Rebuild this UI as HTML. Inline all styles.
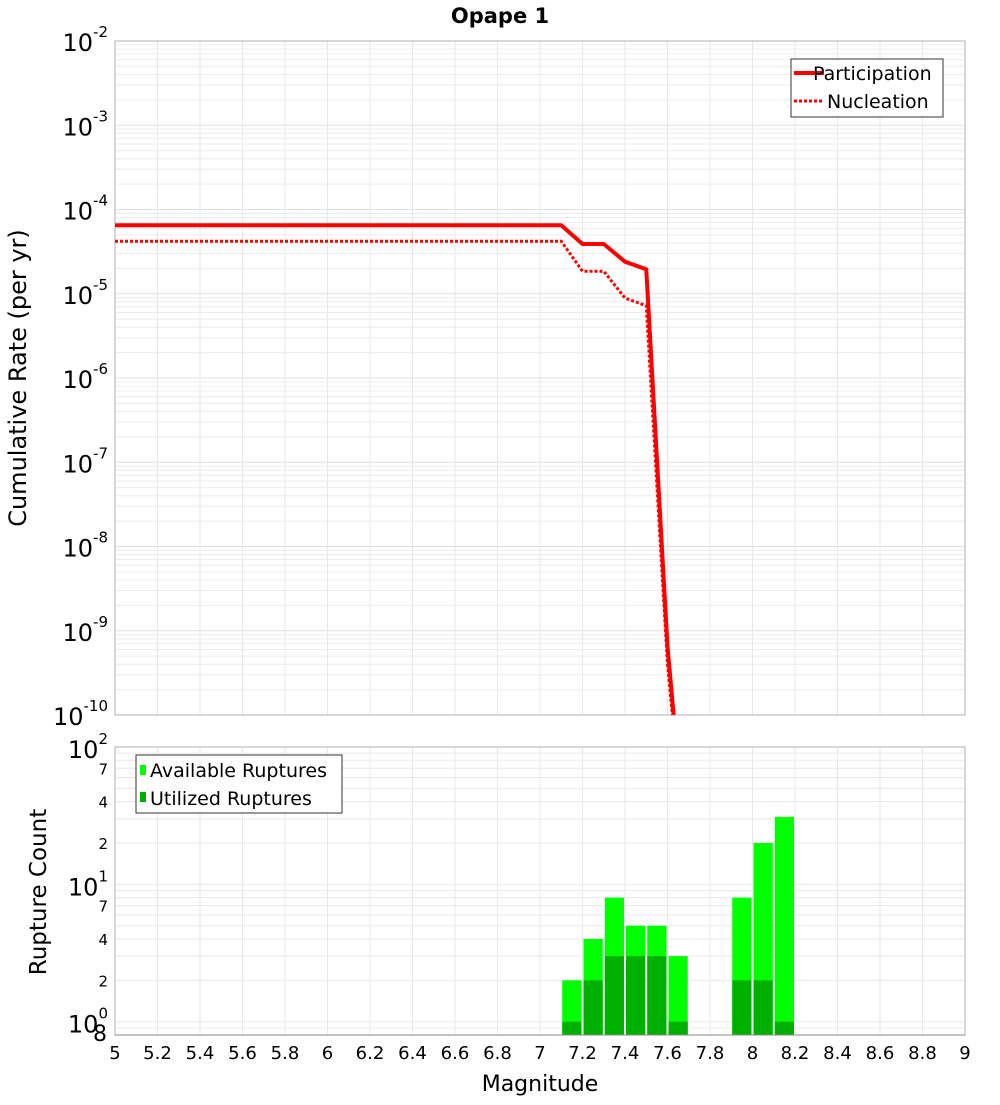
<!DOCTYPE html>
<html><head><meta charset="utf-8"><style>
html,body{margin:0;padding:0;background:#fff;}
svg text{font-family:"DejaVu Sans","Liberation Sans",sans-serif;}
</style></head><body>
<svg id="chart" width="1000" height="1100" xmlns="http://www.w3.org/2000/svg">
<text x="500" y="23" text-anchor="middle" font-size="21" font-weight="bold">Opape 1</text>
<g id="topplot"></g>
<g id="botplot"></g>
<text x="540" y="1091" text-anchor="middle" font-size="22">Magnitude</text>
<text transform="translate(26,378) rotate(-90)" text-anchor="middle" font-size="24">Cumulative Rate (per yr)</text>
<text transform="translate(46,892) rotate(-90)" text-anchor="middle" font-size="23">Rupture Count</text>
</svg>
<script>
const partMags=[5,5.1,5.2,5.3,5.4,5.5,5.6,5.7,5.8,5.9,6,6.1,6.2,6.3,6.4,6.5,6.6,6.7,6.8,6.9,7,7.1,7.2,7.3,7.4,7.5,7.6,7.7];
const partRates=[6.5e-5,6.5e-5,6.5e-5,6.5e-5,6.5e-5,6.5e-5,6.5e-5,6.5e-5,6.5e-5,6.5e-5,6.5e-5,6.5e-5,6.5e-5,6.5e-5,6.5e-5,6.5e-5,6.5e-5,6.5e-5,6.5e-5,6.5e-5,6.5e-5,6.5e-5,3.9e-5,3.9e-5,2.4e-5,1.95e-5,6.5e-10,1e-12];
const nuclRates=[4.2e-5,4.2e-5,4.2e-5,4.2e-5,4.2e-5,4.2e-5,4.2e-5,4.2e-5,4.2e-5,4.2e-5,4.2e-5,4.2e-5,4.2e-5,4.2e-5,4.2e-5,4.2e-5,4.2e-5,4.2e-5,4.2e-5,4.2e-5,4.2e-5,4.2e-5,1.85e-5,1.85e-5,8.9e-6,7.2e-6,4e-10,1e-12];
const barMags=[7.1,7.2,7.3,7.4,7.5,7.6,7.9,8.0,8.1];
const availCounts=[2,4,8,5,5,3,8,20,31];
const usedCounts=[1,2,3,3,3,1,2,2,1];
const xTicks=[5,5.2,5.4,5.6,5.8,6,6.2,6.4,6.6,6.8,7,7.2,7.4,7.6,7.8,8,8.2,8.4,8.6,8.8,9];
const topExps=[-2,-3,-4,-5,-6,-7,-8,-9,-10];
const botMinorLabels=[70,40,20,7,4,2,0.8];

const NS="http://www.w3.org/2000/svg";
const X0=115,X1=965,T0=41,T1=715,B0=747,B1=1035;
const xs=m=>X0+(m-5)/4*(X1-X0);
const yT=v=>T0+(-2-Math.log10(v))/8*(T1-T0);
const yB=v=>B0+(2-Math.log10(v))/(2-Math.log10(0.8))*(B1-B0);
function mk(tag,attrs,parent,text){const e=document.createElementNS(NS,tag);for(const k in attrs)e.setAttribute(k,attrs[k]);if(text!==undefined)e.textContent=text;parent.appendChild(e);return e;}
const topG=document.getElementById('topplot'),botG=document.getElementById('botplot');

const defs=mk('defs',{},document.getElementById('chart'));
const cp=mk('clipPath',{id:'ct'},defs);mk('rect',{x:X0,y:T0,width:X1-X0,height:T1-T0},cp);

for(let e=-10;e<-2;e++){for(let k=1;k<10;k++){const y=yT(k*Math.pow(10,e));const g=mk('line',{x1:X0,x2:X1,y1:y,y2:y,stroke:k==1?'#e0e0e0':'#ececec','stroke-width':1},topG);}}
for(const t of xTicks){const x=xs(t);const g=mk('line',{x1:x,x2:x,y1:T0,y2:T1,stroke:'#e8e8e8'},topG);
 const g2=mk('line',{x1:x,x2:x,y1:B0,y2:B1,stroke:'#e8e8e8'},botG);}
const frT=mk('rect',{x:X0,y:T0,width:X1-X0,height:T1-T0,fill:'none',stroke:'#b0b0b0'},topG);

for(const e of topExps){const y=yT(Math.pow(10,e));const t=mk('text',{x:108,y:y+10,'text-anchor':'end','font-size':24},topG);
 
 mk('tspan',{},t,'10');mk('tspan',{dy:-14,'font-size':15},t,String(e));}

function pl(vals,dash,name){const pts=partMags.map((m,i)=>xs(m)+','+yT(vals[i])).join(' ');
 const p=mk('polyline',{points:pts,fill:'none',stroke:'#ff0000','stroke-width':dash?3:4,'stroke-dasharray':dash?'3,2':'none','clip-path':'url(#ct)'},topG);
 }
pl(partRates,false,'participation-line');pl(nuclRates,true,'nucleation-line');

const lg=mk('g',{},topG);
mk('rect',{x:791,y:59,width:152,height:58,fill:'#fff',stroke:'#333'},lg);
mk('line',{x1:794,x2:824,y1:73,y2:73,stroke:'#f00','stroke-width':4},lg);
mk('line',{x1:794,x2:824,y1:101,y2:101,stroke:'#f00','stroke-width':3,'stroke-dasharray':'3,2'},lg);
const l1=mk('text',{x:813,y:80,'font-size':19},lg,'Participation');
const l2=mk('text',{x:827,y:108,'font-size':19},lg,'Nucleation');

for(let e=-1;e<2;e++){for(let k=1;k<10;k++){const v=k*Math.pow(10,e);if(v<0.8)continue;const y=yB(v);const g=mk('line',{x1:X0,x2:X1,y1:y,y2:y,stroke:'#e8e8e8'},botG);}}
barMags.forEach((m,i)=>{const x=xs(m)+1,w=xs(m+0.1)-xs(m)-2;
 const a=mk('rect',{x:x,y:yB(availCounts[i]),width:w,height:B1-yB(availCounts[i]),fill:'#00ff00'},botG);
 const u=mk('rect',{x:x,y:yB(usedCounts[i]),width:w,height:B1-yB(usedCounts[i]),fill:'#00b000'},botG);});
const frB=mk('rect',{x:X0,y:B0,width:X1-X0,height:B1-B0,fill:'none',stroke:'#b0b0b0'},botG);

mk('line',{x1:X0,x2:X1,y1:B1,y2:B1,stroke:'#888'},botG);
for(const e of [2,1,0]){const y=yB(Math.pow(10,e));const t=mk('text',{x:108,y:y+11,'text-anchor':'end','font-size':24},botG);
 
 mk('tspan',{},t,'10');mk('tspan',{dy:-14,'font-size':15},t,String(e));}
for(const v of botMinorLabels){const y=yB(v);const t=mk('text',{x:v<1?107:108,y:y+6,'text-anchor':'end','font-size':v<1?22:15},botG,v<1?'8':String(v%10===0?v/10:v));
 }
for(const t of xTicks){const tx=mk('text',{x:xs(t),y:1059,'text-anchor':'middle','font-size':18},botG,String(t));}
const bl=mk('g',{},botG);
mk('rect',{x:136,y:755,width:206,height:58,fill:'#fff',stroke:'#333'},bl);
mk('rect',{x:140,y:765,width:6,height:10,fill:'#00ff00'},bl);
mk('rect',{x:140,y:792,width:6,height:10,fill:'#00b000'},bl);
const b1=mk('text',{x:150,y:777,'font-size':19},bl,'Available Ruptures');
const b2=mk('text',{x:150,y:805,'font-size':19},bl,'Utilized Ruptures');
</script>
</body></html>
